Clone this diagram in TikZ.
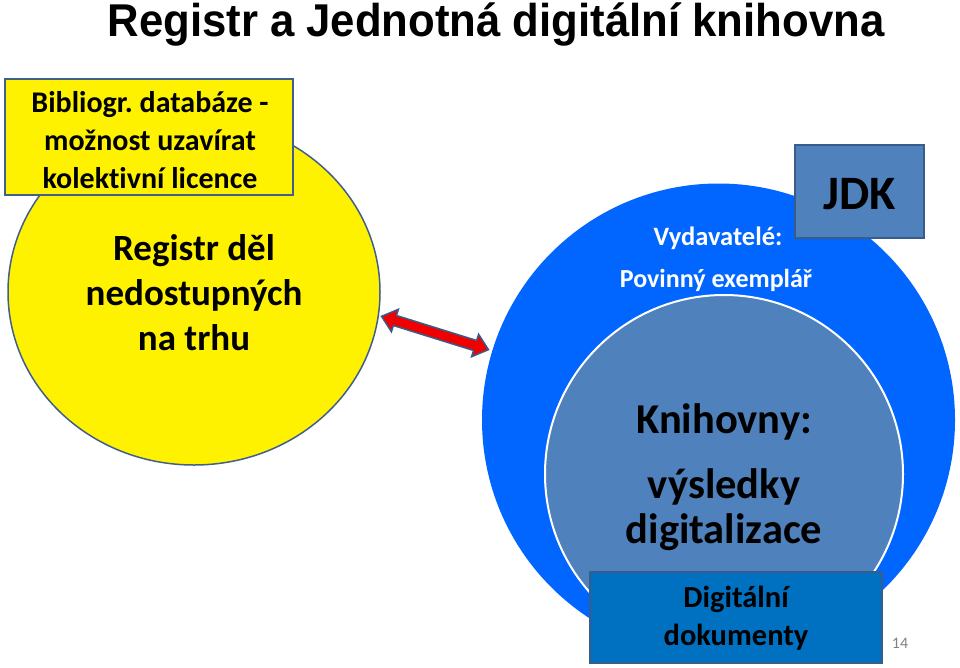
\documentclass[tikz,border=0pt]{standalone}
\usepackage{fontspec}
\setmainfont{Carlito}[Ligatures={NoCommon}]
\newfontfamily\titlefont{Liberation Sans}
\usetikzlibrary{shapes.arrows,shapes.geometric}
\definecolor{ybord}{RGB}{65,95,140}
\definecolor{brightblue}{RGB}{0,102,255}
\definecolor{steel}{RGB}{79,129,189}
\definecolor{steelbord}{RGB}{56,93,138}
\definecolor{docblue}{RGB}{0,112,192}
\definecolor{arrowred}{RGB}{240,0,0}
\tikzset{
  yellowshape/.style={fill=yellow, draw=ybord, line width=1.5pt},
  labelbox/.style={rectangle, draw=steelbord, line width=2pt, inner sep=0pt},
}
\frenchspacing
\begin{document}
\begin{tikzpicture}[x=1pt,y=-1pt]
\useasboundingbox (0,0) rectangle (960,667);
% title
\node[anchor=base, inner sep=0pt] (title) at (496,36) {\scalebox{0.95}[1]{\titlefont\bfseries\fontsize{46}{50}\selectfont Registr a Jednotná digitální knihovna}};
% yellow ellipse
\node[ellipse, yellowshape, minimum width=372pt, minimum height=346pt, inner sep=0pt] (reg) at (194,292) {};
\node[align=center, font=\bfseries\fontsize{37}{45}\selectfont] (regtxt) at (194,293) {Registr děl\\nedostupných\\na trhu};
% yellow box
\node[rectangle, yellowshape, minimum width=288pt, minimum height=116pt, inner sep=0pt] (bib) at (149,137) {};
\node[align=center, font=\bfseries\fontsize{30}{38}\selectfont] (bibtxt) at (150,140) {Bibliogr. databáze -\\možnost uzavírat\\kolektivní licence};
% blue circles
\node[circle, fill=brightblue, minimum size=473pt, inner sep=0pt] (jdkc) at (718.5,420) {};
\node[circle, fill=steel, draw=white, line width=2pt, minimum size=358pt, inner sep=0pt] (lib) at (724,474) {};
% arrow between the shapes
\node[double arrow, fill=arrowred, draw=steelbord, line width=1.5pt, minimum height=112pt, inner xsep=0pt, inner ysep=4.5pt, double arrow head extend=6.5pt, double arrow tip angle=80, rotate=-17.3] (arr) at (435,333) {};
% texts in blue circle
\node[font=\bfseries\fontsize{26.5}{30}\selectfont, text=white] (vyd) at (718,238) {Vydavatelé:};
\node[font=\bfseries\fontsize{26}{30}\selectfont, text=white] (pov) at (716,280) {Povinný exemplář};
\node[font=\bfseries\fontsize{42.5}{48}\selectfont] (kni) at (724,422) {Knihovny:};
\node[align=center, font=\bfseries\fontsize{42.5}{45}\selectfont] (vys) at (724,510) {výsledky\\digitalizace};
% JDK box
\node[labelbox, fill=steel, minimum width=129pt, minimum height=93pt] (jdk) at (859.5,191.5) {};
\node[font=\bfseries\fontsize{48}{52}\selectfont] (jdktxt) at (859.5,194) {JDK};
% digital docs box
\node[labelbox, fill=docblue, minimum width=292pt, minimum height=91pt] (doc) at (736,617.5) {};
\node[align=center, font=\bfseries\fontsize{30.5}{38}\selectfont] (doctxt) at (736,618) {Digitální\\dokumenty};
% page number
\node[font=\fontsize{16}{18}\selectfont, text=gray] (pg) at (900,643) {14};
\end{tikzpicture}
\end{document}
